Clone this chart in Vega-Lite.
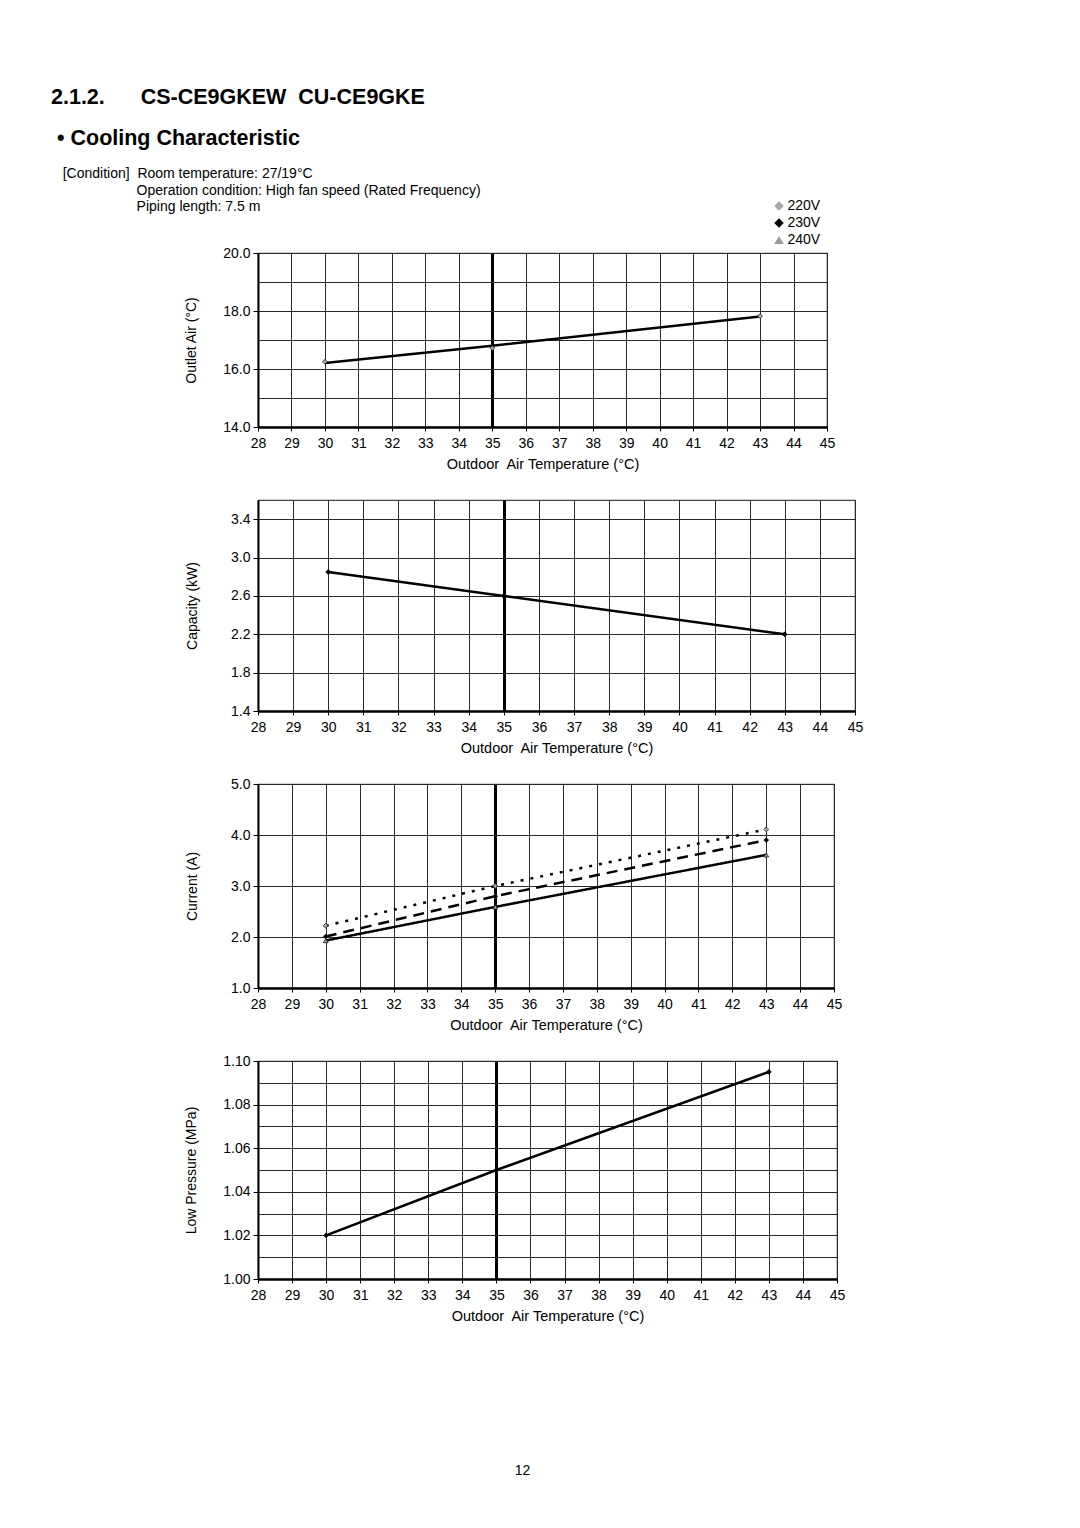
{
  "$schema": "https://vega.github.io/schema/vega-lite/v6.json",
  "background": "white",
  "padding": {"left": 51, "top": 86, "right": 10, "bottom": 10},
  "title": {
    "text": ["2.1.2.\u00a0\u00a0\u00a0\u00a0\u00a0\u00a0CS-CE9GKEW \u00a0CU-CE9GKE", "\u200b\u00a0• Cooling Characteristic"],
    "subtitle": [
      "\u200b\u00a0\u00a0\u00a0[Condition]\u00a0\u00a0Room temperature: 27/19°C",
      "\u200b\u00a0\u00a0\u00a0\u00a0\u00a0\u00a0\u00a0\u00a0\u00a0\u00a0\u00a0\u00a0\u00a0\u00a0\u00a0\u00a0\u00a0\u00a0\u00a0\u00a0\u00a0\u00a0Operation condition: High fan speed (Rated Frequency)",
      "\u200b\u00a0\u00a0\u00a0\u00a0\u00a0\u00a0\u00a0\u00a0\u00a0\u00a0\u00a0\u00a0\u00a0\u00a0\u00a0\u00a0\u00a0\u00a0\u00a0\u00a0\u00a0\u00a0Piping length: 7.5 m"
    ],
    "anchor": "start",
    "frame": "group",
    "dx": -207,
    "offset": -16,
    "font": "Liberation Sans",
    "fontSize": 21.5,
    "fontWeight": "bold",
    "lineHeight": 41.6,
    "color": "#000",
    "subtitleFont": "Liberation Sans",
    "subtitleFontSize": 14,
    "subtitleLineHeight": 16.7,
    "subtitleColor": "#000",
    "subtitlePadding": 17
  },
  "datasets": {
    "outlet": [
      {"t": 30, "v": 16.21, "voltage": "230V"},
      {"t": 35, "v": 16.8, "voltage": "230V"},
      {"t": 43, "v": 17.81, "voltage": "230V"},
      {"t": 30, "v": 16.25, "voltage": "220V"},
      {"t": 35, "v": 16.72, "voltage": "220V"},
      {"t": 43, "v": 17.82, "voltage": "220V"}
    ],
    "capacity": [
      {"t": 30, "v": 2.85, "voltage": "230V"},
      {"t": 35, "v": 2.6, "voltage": "230V"},
      {"t": 43, "v": 2.2, "voltage": "230V"}
    ],
    "current": [
      {"t": 30, "v": 2.22, "voltage": "220V"},
      {"t": 35, "v": 3.0, "voltage": "220V"},
      {"t": 43, "v": 4.11, "voltage": "220V"},
      {"t": 30, "v": 2.01, "voltage": "230V"},
      {"t": 35, "v": 2.8, "voltage": "230V"},
      {"t": 43, "v": 3.9, "voltage": "230V"},
      {"t": 30, "v": 1.93, "voltage": "240V"},
      {"t": 35, "v": 2.59, "voltage": "240V"},
      {"t": 43, "v": 3.61, "voltage": "240V"}
    ],
    "pressure": [
      {"t": 30, "v": 1.02, "voltage": "230V"},
      {"t": 35, "v": 1.05, "voltage": "230V"},
      {"t": 43, "v": 1.095, "voltage": "230V"}
    ]
  },
  "vconcat": [
    {
      "width": 569,
      "height": 174,
      "data": {"name": "outlet"},
      "layer": [
        {
          "transform": [{"filter": "datum.voltage === '230V'"}],
          "mark": {"type": "line", "color": "#000", "strokeWidth": 2.5},
          "encoding": {
            "x": {"field": "t", "type": "quantitative", "scale": {"domain": [28, 45], "nice": false, "zero": false},
              "axis": {"values": [28,29,30,31,32,33,34,35,36,37,38,39,40,41,42,43,44,45], "tickCount": 100, "labelOverlap": false, "labelFlush": false, "format": "d", "title": "Outdoor\u00a0 Air Temperature (°C)",
                "gridColor": {"condition": {"test": "datum.value === 35", "value": "#000"}, "value": "#2a2a2a"},
                "gridWidth": {"condition": {"test": "datum.value === 35", "value": 3}, "value": 1}}},
            "y": {"field": "v", "type": "quantitative", "scale": {"domain": [14, 20], "nice": false, "zero": false},
              "axis": {"values": [14,15,16,17,18,19,20], "tickCount": 100, "labelOverlap": false, "title": "Outlet Air (°C)", "titlePadding": 24,
                "labelExpr": "datum.value % 2 === 0 ? format(datum.value, '.1f') : ''",
                "tickSize": {"condition": {"test": "datum.value % 2 !== 0", "value": 0}, "value": 5}}}
          }
        },
        {
          "transform": [{"filter": "datum.voltage === '220V'"}],
          "mark": {"type": "point", "filled": true, "size": 24, "stroke": "#222", "strokeWidth": 0.8, "opacity": 1},
          "encoding": {
            "x": {"field": "t", "type": "quantitative"},
            "y": {"field": "v", "type": "quantitative"},
            "shape": {"field": "voltage", "type": "nominal", "scale": {"domain": ["220V", "230V", "240V"], "range": ["diamond", "diamond", "triangle-up"]},
              "legend": {"orient": "none", "legendX": 514, "legendY": -54, "title": null, "padding": 0}},
            "fill": {"field": "voltage", "type": "nominal", "scale": {"domain": ["220V", "230V", "240V"], "range": ["#a8a8a8", "#000000", "#9a9a9a"]},
              "legend": {"orient": "none", "legendX": 514, "legendY": -54, "title": null, "padding": 0}}
          }
        }
      ]
    },
    {
      "width": 597,
      "height": 211,
      "data": {"name": "capacity"},
      "layer": [
        {
          "mark": {"type": "line", "color": "#000", "strokeWidth": 2.5},
          "encoding": {
            "x": {"field": "t", "type": "quantitative", "scale": {"domain": [28, 45], "nice": false, "zero": false},
              "axis": {"values": [28,29,30,31,32,33,34,35,36,37,38,39,40,41,42,43,44,45], "tickCount": 100, "labelOverlap": false, "labelFlush": false, "format": "d", "title": "Outdoor\u00a0 Air Temperature (°C)",
                "gridColor": {"condition": {"test": "datum.value === 35", "value": "#000"}, "value": "#2a2a2a"},
                "gridWidth": {"condition": {"test": "datum.value === 35", "value": 3}, "value": 1}}},
            "y": {"field": "v", "type": "quantitative", "scale": {"domain": [1.4, 3.6], "nice": false, "zero": false},
              "axis": {"values": [1.4, 1.8, 2.2, 2.6, 3.0, 3.4], "tickCount": 100, "labelOverlap": false, "format": ".1f", "title": "Capacity (kW)", "titlePadding": 31}}
          }
        },
        {
          "mark": {"type": "point", "shape": "diamond", "filled": true, "fill": "#000", "size": 24, "stroke": "#000", "strokeWidth": 0.8, "opacity": 1},
          "encoding": {
            "x": {"field": "t", "type": "quantitative"},
            "y": {"field": "v", "type": "quantitative"}
          }
        }
      ]
    },
    {
      "width": 576,
      "height": 204,
      "data": {"name": "current"},
      "layer": [
        {
          "mark": {"type": "line", "color": "#000", "strokeWidth": 2.5},
          "encoding": {
            "x": {"field": "t", "type": "quantitative", "scale": {"domain": [28, 45], "nice": false, "zero": false},
              "axis": {"values": [28,29,30,31,32,33,34,35,36,37,38,39,40,41,42,43,44,45], "tickCount": 100, "labelOverlap": false, "labelFlush": false, "format": "d", "title": "Outdoor\u00a0 Air Temperature (°C)",
                "gridColor": {"condition": {"test": "datum.value === 35", "value": "#000"}, "value": "#2a2a2a"},
                "gridWidth": {"condition": {"test": "datum.value === 35", "value": 3}, "value": 1}}},
            "y": {"field": "v", "type": "quantitative", "scale": {"domain": [1, 5], "nice": false, "zero": false},
              "axis": {"values": [1, 2, 3, 4, 5], "tickCount": 100, "labelOverlap": false, "format": ".1f", "title": "Current (A)", "titlePadding": 31}},
            "detail": {"field": "voltage", "type": "nominal"},
            "strokeDash": {"field": "voltage", "type": "nominal", "scale": {"domain": ["220V", "230V", "240V"], "range": [[3, 7], [11, 7], [1, 0]]}, "legend": null}
          }
        },
        {
          "mark": {"type": "point", "filled": true, "size": 24, "stroke": "#222", "strokeWidth": 0.8, "opacity": 1},
          "encoding": {
            "x": {"field": "t", "type": "quantitative"},
            "y": {"field": "v", "type": "quantitative"},
            "shape": {"field": "voltage", "type": "nominal", "scale": {"domain": ["220V", "230V", "240V"], "range": ["diamond", "diamond", "triangle-up"]}, "legend": null},
            "fill": {"field": "voltage", "type": "nominal", "scale": {"domain": ["220V", "230V", "240V"], "range": ["#a8a8a8", "#000000", "#9a9a9a"]}, "legend": null}
          }
        }
      ]
    },
    {
      "width": 579,
      "height": 218,
      "data": {"name": "pressure"},
      "title": {"text": "12", "orient": "bottom", "anchor": "middle", "frame": "group", "offset": 141, "dx": -25, "fontSize": 14, "fontWeight": "normal", "color": "#000", "font": "Liberation Sans"},
      "layer": [
        {
          "mark": {"type": "line", "color": "#000", "strokeWidth": 2.5},
          "encoding": {
            "x": {"field": "t", "type": "quantitative", "scale": {"domain": [28, 45], "nice": false, "zero": false},
              "axis": {"values": [28,29,30,31,32,33,34,35,36,37,38,39,40,41,42,43,44,45], "tickCount": 100, "labelOverlap": false, "labelFlush": false, "format": "d", "title": "Outdoor\u00a0 Air Temperature (°C)",
                "gridColor": {"condition": {"test": "datum.value === 35", "value": "#000"}, "value": "#2a2a2a"},
                "gridWidth": {"condition": {"test": "datum.value === 35", "value": 3}, "value": 1}}},
            "y": {"field": "v", "type": "quantitative", "scale": {"domain": [1.0, 1.1], "nice": false, "zero": false},
              "axis": {"values": [1.0, 1.01, 1.02, 1.03, 1.04, 1.05, 1.06, 1.07, 1.08, 1.09, 1.1], "tickCount": 100, "labelOverlap": false, "title": "Low Pressure (MPa)", "titlePadding": 24,
                "labelExpr": "round(datum.value * 100) % 2 === 0 ? format(datum.value, '.2f') : ''",
                "tickSize": {"condition": {"test": "round(datum.value * 100) % 2 !== 0", "value": 0}, "value": 5}}}
          }
        },
        {
          "mark": {"type": "point", "shape": "diamond", "filled": true, "fill": "#000", "size": 24, "stroke": "#000", "strokeWidth": 0.8, "opacity": 1},
          "encoding": {
            "x": {"field": "t", "type": "quantitative"},
            "y": {"field": "v", "type": "quantitative"}
          }
        }
      ]
    }
  ],
  "spacing": 73,
  "bounds": "flush",
  "resolve": {
    "scale": {"x": "independent", "y": "independent", "shape": "independent", "fill": "independent", "strokeDash": "independent"},
    "legend": {"shape": "independent", "fill": "independent", "strokeDash": "independent"}
  },
  "config": {
    "font": "Liberation Sans",
    "view": {"stroke": "#444", "strokeWidth": 1.2},
    "axis": {
      "labelFont": "Liberation Sans", "labelFontSize": 14, "labelColor": "#000",
      "titleFont": "Liberation Sans", "titleFontSize": 14, "titleFontWeight": "normal", "titleColor": "#000",
      "tickColor": "#000", "tickWidth": 1, "domainColor": "#000",
      "grid": true, "gridColor": "#2a2a2a", "gridWidth": 1,
      "labelFlush": false, "labelOverlap": false
    },
    "axisX": {"domainWidth": 2.5, "tickSize": 4, "labelPadding": 5, "titlePadding": 7, "labelAngle": 0, "titleFontSize": 14.5},
    "axisY": {"domainWidth": 2, "tickSize": 5, "labelPadding": 3},
    "legend": {"labelFont": "Liberation Sans", "labelFontSize": 14, "labelColor": "#000", "symbolSize": 90, "symbolStrokeColor": "#333", "symbolStrokeWidth": 1, "rowPadding": 3, "labelOffset": 1.5}
  }
}
